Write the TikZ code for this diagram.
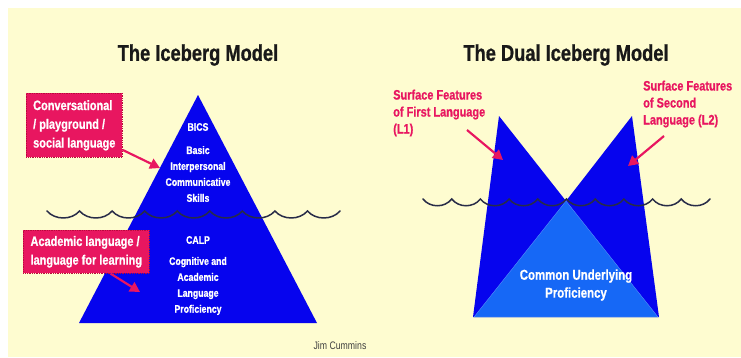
\documentclass[tikz,border=0pt]{standalone}
\usepackage{fontspec}
\setmainfont{Liberation Sans}[FakeStretch=0.8,BoldFeatures={FakeBold=0.8}]
\usetikzlibrary{arrows.meta}
\definecolor{paper}{RGB}{254,252,208}
\definecolor{deepice}{RGB}{6,4,238}
\definecolor{paleice}{RGB}{22,104,246}
\definecolor{callout}{RGB}{232,22,96}
\definecolor{calloutedge}{RGB}{185,10,60}
\definecolor{sea}{RGB}{40,44,72}
\begin{document}
\begin{tikzpicture}[x=0.3mm,y=-0.3mm,
    heading/.style={font=\fontsize{19.5}{22}\selectfont\bfseries,text=black!90},
    inside/.style={font=\fontsize{9.3}{13.6}\selectfont\bfseries,text=white,align=center},
    callbox/.style={fill=callout,draw=calloutedge,densely dotted,line width=0.5pt,text=white,
        font=\fontsize{11.7}{16}\selectfont\bfseries,align=left,anchor=north west,inner xsep=1.5mm},
    calltext/.style={text=callout,font=\fontsize{11.7}{14.5}\selectfont\bfseries,align=left,anchor=west,inner sep=0pt},
    pointer/.style={callout,line width=0.65mm,-{Triangle[length=3mm,width=3.2mm]}},
    wave/.style={sea,line width=0.45mm,line cap=round}
]
\useasboundingbox (0,0) rectangle (741,357);
\fill[paper] (8,8) rectangle (741,357);

% left: one iceberg
\node[heading] (icetitle) at (198,55) {The Iceberg Model};
\fill[deepice] (198,95) -- (317,323) -- (79,323) -- cycle;
\draw[wave] (47,211) \foreach \i in {1,...,9}{
    .. controls +(8,9.3) and +(-8,9.3) .. ({47+\i*32.56},211) };
\node[inside] (bics) at (198,127) {BICS};
\node[inside] (bicsfull) at (198,174) {Basic\\Interpersonal\\Communicative\\Skills};
\node[inside] (calp) at (198,240) {CALP};
\node[inside] (calpfull) at (198,286) {Cognitive and\\Academic\\Language\\Proficiency};
\node[callbox,minimum width=28.8mm,minimum height=19.2mm] (convbox) at (26,93)
    {Conversational\\/ playground /\\social language};
\node[callbox,minimum width=37.8mm,minimum height=12.9mm,inner xsep=0.6mm] (acadbox) at (23,230)
    {Academic language /\\language for learning};
\coordinate (convtip) at (160,168);
\coordinate (acadtip) at (140,292);
\draw[pointer] (convbox.-27) -- (convtip);
\draw[pointer] (acadbox.-42) -- (acadtip);
\node[font=\fontsize{9.3}{11}\selectfont,text=black!75] (author) at (340,346) {Jim Cummins};

% right: two tips over one shared base
\node[heading] (dualtitle) at (566,55) {The Dual Iceberg Model};
\fill[deepice] (473,317) -- (499,116) -- (566,201) -- (632,116) -- (659,317) -- cycle;
\filldraw[fill=paleice,draw=paleice!70!white,line width=0.3pt] (566,201) -- (658,317) -- (474,317) -- cycle;
\draw[wave] (423,199) \foreach \i in {1,...,10}{
    .. controls +(7,9) and +(-7,9) .. ({423+\i*28.7},199) };
\node[inside,font=\fontsize{12.2}{15.3}\selectfont\bfseries] (cup) at (576,285) {Common Underlying\\Proficiency};
\node[calltext] (firstlang) at (393,113) {Surface Features\\of First Language\\(L1)};
\node[calltext] (secondlang) at (643,104) {Surface Features\\of Second\\Language (L2)};
\coordinate (firsttail) at (467,130);
\coordinate (firsttip) at (503,160);
\coordinate (secondtail) at (664,136);
\coordinate (secondtip) at (628,166);
\draw[pointer] (firsttail) -- (firsttip);
\draw[pointer] (secondtail) -- (secondtip);
\end{tikzpicture}
\end{document}
